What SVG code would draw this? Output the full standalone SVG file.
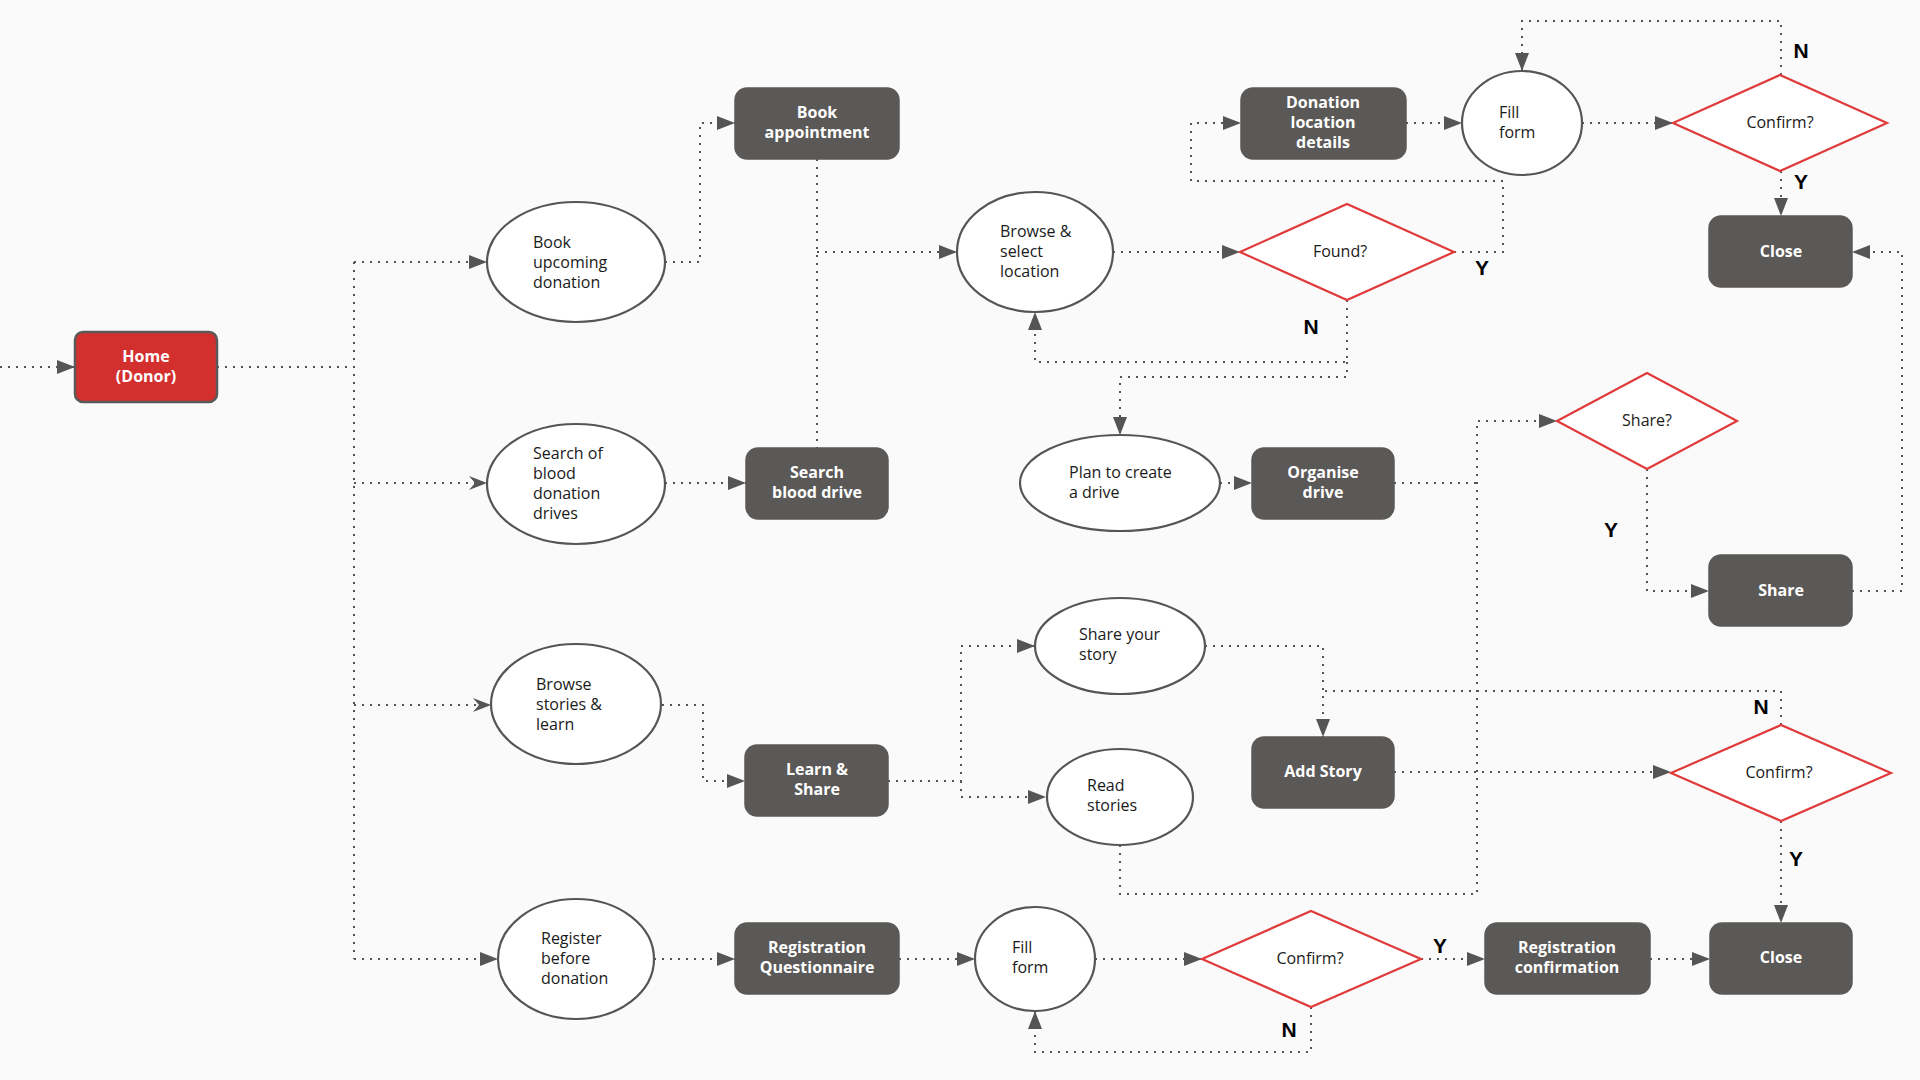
<svg xmlns="http://www.w3.org/2000/svg" width="1920" height="1080" viewBox="0 0 1920 1080">
<defs>
<style>
.bg{fill:#fafafa}
.box{fill:#5b5957;stroke:#5b5957;stroke-width:1.5}
.home{fill:#d32f2f;stroke:#5b5957;stroke-width:2.5}
.ell{fill:#ffffff;stroke:#555555;stroke-width:2.2}
.dia{fill:#ffffff;stroke:#e03a3a;stroke-width:2.2}
.bt{font-family:"Open Sans","Liberation Sans",sans-serif;font-size:16px;font-weight:700;fill:#ffffff;text-anchor:middle}
.et{font-family:"Open Sans","Liberation Sans",sans-serif;font-size:16px;fill:#1a1a1a}
.dt{font-family:"Open Sans","Liberation Sans",sans-serif;font-size:16px;fill:#1a1a1a;text-anchor:middle}
.yn{font-family:"Liberation Sans",Arial,sans-serif;font-size:21px;font-weight:700;fill:#000000;text-anchor:middle}
.c{fill:none;stroke:#555555;stroke-width:2;stroke-dasharray:2 6}
.a{marker-end:url(#arr)}
.v{marker-end:url(#chev)}
</style>
<marker id="arr" markerUnits="userSpaceOnUse" markerWidth="18" markerHeight="14" refX="18" refY="7" orient="auto">
<path d="M0,0 L18,7 L0,14 Z" fill="#555555"/>
</marker>
<marker id="chev" markerUnits="userSpaceOnUse" markerWidth="18" markerHeight="14" refX="18" refY="7" orient="auto">
<path d="M0,0 L18,7 L0,14 L6,7 Z" fill="#555555"/>
</marker>
</defs>
<rect class="bg" x="0" y="0" width="1920" height="1080"/>

<g id="connectors">
<path class="c a" d="M0,367 H75"/>
<path class="c" d="M217,367 H354"/>
<path class="c" d="M354,262 V959"/>
<path class="c a" d="M354,262 H487"/>
<path class="c v" d="M354,483 H487"/>
<path class="c v" d="M354,705 H491"/>
<path class="c a" d="M354,959 H498"/>
<path class="c a" d="M665,262 H700 V123 H735"/>
<path class="c" d="M817,159 V448"/>
<path class="c a" d="M817,252 H957"/>
<path class="c a" d="M665,483 H746"/>
<path class="c a" d="M1113,252 H1240"/>
<path class="c a" d="M1454,252 H1503 V181 H1191 V123 H1241"/>
<path class="c a" d="M1347,300 V362 H1035 V312"/>
<path class="c a" d="M1347,362 V377 H1120 V435"/>
<path class="c a" d="M1406,123 H1462"/>
<path class="c a" d="M1582,123 H1673"/>
<path class="c a" d="M1781,75 V21 H1522 V71"/>
<path class="c a" d="M1781,171 V216"/>
<path class="c a" d="M1220,483 H1252"/>
<path class="c" d="M1394,483 H1477"/>
<path class="c a" d="M1120,845 V894 H1477 V421 H1557"/>
<path class="c a" d="M1647,469 V591 H1709"/>
<path class="c a" d="M1852,591 H1902 V252 H1852"/>
<path class="c a" d="M662,705 H703 V781 H745"/>
<path class="c a" d="M888,781 H961 V646 H1035"/>
<path class="c a" d="M961,781 V797 H1046"/>
<path class="c a" d="M1205,646 H1323 V737"/>
<path class="c" d="M1781,725 V691 H1323"/>
<path class="c a" d="M1394,772 H1671"/>
<path class="c a" d="M1781,821 V923"/>
<path class="c a" d="M654,959 H735"/>
<path class="c a" d="M899,959 H975"/>
<path class="c a" d="M1095,959 H1202"/>
<path class="c a" d="M1421,959 H1485"/>
<path class="c a" d="M1311,1007 V1052 H1035 V1011"/>
<path class="c a" d="M1650,959 H1710"/>
</g>

<g id="labels">
<text class="yn" x="1801" y="58">N</text>
<text class="yn" x="1801" y="189">Y</text>
<text class="yn" x="1482" y="275">Y</text>
<text class="yn" x="1311" y="334">N</text>
<text class="yn" x="1611" y="537">Y</text>
<text class="yn" x="1761" y="714">N</text>
<text class="yn" x="1796" y="866">Y</text>
<text class="yn" x="1440" y="953">Y</text>
<text class="yn" x="1289" y="1037">N</text>
</g>

<g id="home">
<rect class="home" x="75" y="332" width="142" height="70" rx="8"/>
<text class="bt" x="146" y="362">Home</text>
<text class="bt" x="146" y="382">(Donor)</text>
</g>

<g id="book-upcoming">
<ellipse class="ell" cx="576" cy="262" rx="89" ry="60"/>
<text class="et" x="533" y="248">Book</text>
<text class="et" x="533" y="268">upcoming</text>
<text class="et" x="533" y="288">donation</text>
</g>

<g id="search-drives">
<ellipse class="ell" cx="576" cy="484" rx="89" ry="60"/>
<text class="et" x="533" y="459">Search of</text>
<text class="et" x="533" y="479">blood</text>
<text class="et" x="533" y="499">donation</text>
<text class="et" x="533" y="519">drives</text>
</g>

<g id="browse-stories">
<ellipse class="ell" cx="576" cy="704" rx="85" ry="60"/>
<text class="et" x="536" y="690">Browse</text>
<text class="et" x="536" y="710">stories &amp;</text>
<text class="et" x="536" y="730">learn</text>
</g>

<g id="register">
<ellipse class="ell" cx="576" cy="959" rx="78" ry="60"/>
<text class="et" x="541" y="944">Register</text>
<text class="et" x="541" y="964">before</text>
<text class="et" x="541" y="984">donation</text>
</g>

<g id="book-appointment">
<rect class="box" x="735" y="88" width="164" height="71" rx="12"/>
<text class="bt" x="817" y="118">Book</text>
<text class="bt" x="817" y="138">appointment</text>
</g>

<g id="search-blood-drive">
<rect class="box" x="746" y="448" width="142" height="71" rx="12"/>
<text class="bt" x="817" y="478">Search</text>
<text class="bt" x="817" y="498">blood drive</text>
</g>

<g id="learn-share">
<rect class="box" x="745" y="745" width="143" height="71" rx="12"/>
<text class="bt" x="817" y="775">Learn &amp;</text>
<text class="bt" x="817" y="795">Share</text>
</g>

<g id="registration-questionnaire">
<rect class="box" x="735" y="923" width="164" height="71" rx="12"/>
<text class="bt" x="817" y="953">Registration</text>
<text class="bt" x="817" y="973">Questionnaire</text>
</g>

<g id="browse-select">
<ellipse class="ell" cx="1035" cy="252" rx="78" ry="60"/>
<text class="et" x="1000" y="237">Browse &amp;</text>
<text class="et" x="1000" y="257">select</text>
<text class="et" x="1000" y="277">location</text>
</g>

<g id="found">
<polygon class="dia" points="1240,252 1347,204 1454,252 1347,300"/>
<text class="dt" x="1340" y="257">Found?</text>
</g>

<g id="donation-location">
<rect class="box" x="1241" y="88" width="165" height="71" rx="12"/>
<text class="bt" x="1323" y="108">Donation</text>
<text class="bt" x="1323" y="128">location</text>
<text class="bt" x="1323" y="148">details</text>
</g>

<g id="fill-form-top">
<ellipse class="ell" cx="1522" cy="123" rx="60" ry="52"/>
<text class="et" x="1499" y="118">Fill</text>
<text class="et" x="1499" y="138">form</text>
</g>

<g id="confirm-top">
<polygon class="dia" points="1673,123 1780,75 1887,123 1780,171"/>
<text class="dt" x="1780" y="128">Confirm?</text>
</g>

<g id="close-top">
<rect class="box" x="1709" y="216" width="143" height="71" rx="12"/>
<text class="bt" x="1781" y="257">Close</text>
</g>

<g id="plan-drive">
<ellipse class="ell" cx="1120" cy="483" rx="100" ry="48"/>
<text class="et" x="1069" y="478">Plan to create</text>
<text class="et" x="1069" y="498">a drive</text>
</g>

<g id="organise-drive">
<rect class="box" x="1252" y="448" width="142" height="71" rx="12"/>
<text class="bt" x="1323" y="478">Organise</text>
<text class="bt" x="1323" y="498">drive</text>
</g>

<g id="share-question">
<polygon class="dia" points="1557,421 1647,373 1737,421 1647,469"/>
<text class="dt" x="1647" y="426">Share?</text>
</g>

<g id="share">
<rect class="box" x="1709" y="555" width="143" height="71" rx="12"/>
<text class="bt" x="1781" y="596">Share</text>
</g>

<g id="share-story">
<ellipse class="ell" cx="1120" cy="646" rx="85" ry="48"/>
<text class="et" x="1079" y="640">Share your</text>
<text class="et" x="1079" y="660">story</text>
</g>

<g id="read-stories">
<ellipse class="ell" cx="1120" cy="797" rx="73" ry="48"/>
<text class="et" x="1087" y="791">Read</text>
<text class="et" x="1087" y="811">stories</text>
</g>

<g id="add-story">
<rect class="box" x="1252" y="737" width="142" height="71" rx="12"/>
<text class="bt" x="1323" y="777">Add Story</text>
</g>

<g id="confirm-story">
<polygon class="dia" points="1671,773 1781,725 1891,773 1781,821"/>
<text class="dt" x="1779" y="778">Confirm?</text>
</g>

<g id="fill-form-bottom">
<ellipse class="ell" cx="1035" cy="959" rx="60" ry="52"/>
<text class="et" x="1012" y="953">Fill</text>
<text class="et" x="1012" y="973">form</text>
</g>

<g id="confirm-registration">
<polygon class="dia" points="1202,959 1311,911 1421,959 1311,1007"/>
<text class="dt" x="1310" y="964">Confirm?</text>
</g>

<g id="registration-confirmation">
<rect class="box" x="1485" y="923" width="165" height="71" rx="12"/>
<text class="bt" x="1567" y="953">Registration</text>
<text class="bt" x="1567" y="973">confirmation</text>
</g>

<g id="close-bottom">
<rect class="box" x="1710" y="923" width="142" height="71" rx="12"/>
<text class="bt" x="1781" y="963">Close</text>
</g>
</svg>
